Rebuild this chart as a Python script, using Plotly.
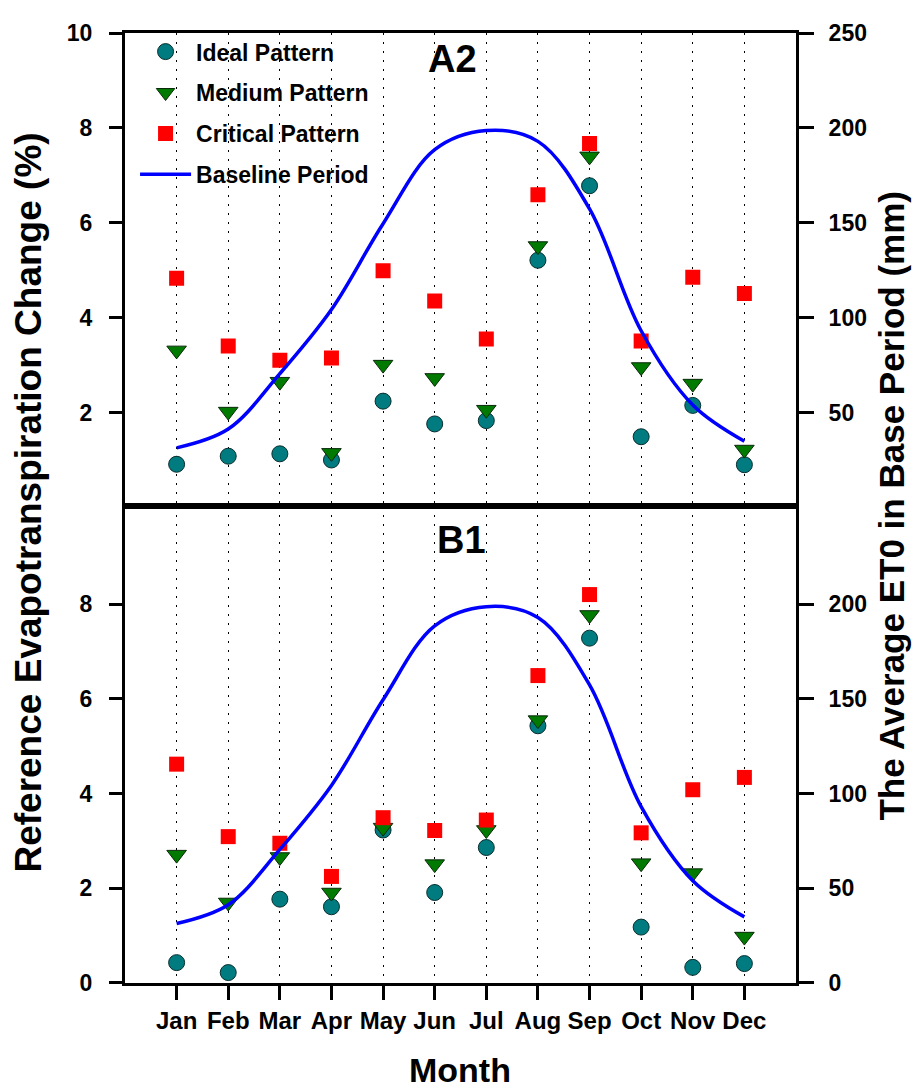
import plotly.graph_objects as go

months = ["Jan", "Feb", "Mar", "Apr", "May", "Jun", "Jul", "Aug", "Sep", "Oct", "Nov", "Dec"]
month_pos = list(range(1, 13))

# Baseline period average ET0 (mm), right axis
baseline_mm = [31.4, 41.3, 70.5, 104.3, 149.5, 188.5, 198.6, 192.9, 157.3, 93.1, 54.0, 34.9]

# A2 scenario (% change)
a2_ideal = [0.91, 1.08, 1.13, 1.00, 2.24, 1.76, 1.83, 5.21, 6.78, 1.49, 2.15, 0.90]
a2_medium = [3.31, 2.02, 2.65, 1.15, 3.01, 2.73, 2.06, 5.51, 7.40, 2.96, 2.61, 1.22]
a2_critical = [4.83, 3.40, 3.10, 3.15, 4.99, 4.35, 3.55, 6.59, 7.67, 3.51, 4.85, 4.51]

# B1 scenario (% change)
b1_ideal = [0.43, 0.22, 1.77, 1.61, 3.23, 1.91, 2.86, 5.43, 7.28, 1.18, 0.33, 0.41]
b1_medium = [2.71, 1.70, 2.66, 1.91, 3.28, 2.51, 3.23, 5.55, 7.77, 2.53, 2.32, 0.98]
b1_critical = [4.62, 3.09, 2.95, 2.25, 3.49, 3.22, 3.44, 6.49, 8.20, 3.17, 4.08, 4.34]

left_ticks_top = [2, 4, 6, 8, 10]
right_ticks_top = [50, 100, 150, 200, 250]
left_ticks_bot = [0, 2, 4, 6, 8]
right_ticks_bot = [0, 50, 100, 150, 200]

FONT = "Liberation Sans, Arial, sans-serif"
TEAL = "#007B7F"
GREEN = "#007A00"
RED = "#FF0000"
BLUE = "#0000FF"

fig = go.Figure()

def add_panel(ideal, medium, critical, xa, ya, ya2, show):
    fig.add_trace(go.Scatter(
        x=month_pos, y=ideal, mode="markers", name="Ideal Pattern",
        legendgroup="g1", showlegend=show, xaxis=xa, yaxis=ya,
        marker=dict(symbol="circle", size=16, color=TEAL,
                    line=dict(color="#0A2E2E", width=1))))
    fig.add_trace(go.Scatter(
        x=month_pos, y=medium, mode="markers", name="Medium Pattern",
        legendgroup="g2", showlegend=show, xaxis=xa, yaxis=ya,
        marker=dict(symbol="triangle-down", size=17, color=GREEN,
                    line=dict(color="#0A2A0A", width=1))))
    fig.add_trace(go.Scatter(
        x=month_pos, y=critical, mode="markers", name="Critical Pattern",
        legendgroup="g3", showlegend=show, xaxis=xa, yaxis=ya,
        marker=dict(symbol="square", size=15, color=RED,
                    line=dict(width=0))))
    fig.add_trace(go.Scatter(
        x=month_pos, y=baseline_mm, mode="lines", name="Baseline Period",
        legendgroup="g4", showlegend=show, xaxis=xa, yaxis=ya2,
        line=dict(color=BLUE, width=3.5, shape="spline", smoothing=1.0)))

# top panel (A2): x2 / y3 / y4 ; bottom (B1): x / y / y2
add_panel(a2_ideal, a2_medium, a2_critical, "x2", "y3", "y4", True)
add_panel(b1_ideal, b1_medium, b1_critical, "x", "y", "y2", False)

split = (983 - 500) / 961

grid_common = dict(showgrid=True, gridcolor="black", gridwidth=1,
                   griddash="2px,7px", zeroline=False)
tickfont = dict(family=FONT, size=23, color="black")
xtickfont = dict(family=FONT, size=24, color="black")

# The page body has an 8px margin, so the figure is offset by 8px on screen.
fig.update_layout(
    width=912, height=1083, autosize=False,
    margin=dict(l=117, r=124, t=14, b=108),
    plot_bgcolor="white", paper_bgcolor="white",
    font=dict(family=FONT, color="black"),
    xaxis=dict(domain=[0, 1], anchor="y", range=[0, 13],
               tickmode="array", tickvals=month_pos, ticktext=["<b>%s</b>" % m for m in months],
               ticks="outside", ticklen=14, tickwidth=2.5, tickcolor="black",
               tickfont=xtickfont, showline=True, linecolor="black", linewidth=3,
               mirror=True, **grid_common),
    xaxis2=dict(domain=[0, 1], anchor="y3", range=[0, 13],
                tickmode="array", tickvals=month_pos, showticklabels=False,
                ticks="", showline=True, linecolor="black", linewidth=3,
                mirror=True, **grid_common),
    yaxis=dict(domain=[0, split], anchor="x", range=[0, 10.08],
               tickmode="array", tickvals=left_ticks_bot,
               ticktext=["<b>%d</b>" % v for v in left_ticks_bot],
               ticks="outside", ticklen=13, tickwidth=2.5, tickcolor="black",
               tickfont=tickfont, ticklabelstandoff=12,
               showline=True, linecolor="black", linewidth=3,
               showgrid=False, zeroline=False),
    yaxis2=dict(overlaying="y", side="right", anchor="x", range=[0, 252],
                tickmode="array", tickvals=right_ticks_bot,
                ticktext=["<b>%d</b>" % v for v in right_ticks_bot],
                ticks="outside", ticklen=15, tickwidth=2.5, tickcolor="black",
                tickfont=tickfont, ticklabelstandoff=10,
                showline=True, linecolor="black", linewidth=3,
                showgrid=False, zeroline=False),
    yaxis3=dict(domain=[split, 1], anchor="x2", range=[0.04, 10],
                tickmode="array", tickvals=left_ticks_top,
                ticktext=["<b>%d</b>" % v for v in left_ticks_top],
                ticks="outside", ticklen=13, tickwidth=2.5, tickcolor="black",
                tickfont=tickfont, ticklabelstandoff=12,
                showline=True, linecolor="black", linewidth=3,
                showgrid=False, zeroline=False),
    yaxis4=dict(overlaying="y3", side="right", anchor="x2", range=[1, 250],
                tickmode="array", tickvals=right_ticks_top,
                ticktext=["<b>%d</b>" % v for v in right_ticks_top],
                ticks="outside", ticklen=15, tickwidth=2.5, tickcolor="black",
                tickfont=tickfont, ticklabelstandoff=10,
                showline=True, linecolor="black", linewidth=3,
                showgrid=False, zeroline=False),
    legend=dict(x=0.015, y=1.003, xanchor="left", yanchor="top",
                bgcolor="rgba(0,0,0,0)", borderwidth=0,
                font=dict(family=FONT, size=23, color="black", weight="bold"),
                traceorder="grouped", tracegroupgap=8, itemwidth=51),
    showlegend=True,
)

ann_font = dict(family=FONT, color="black")
fig.add_annotation(text="<b>A2</b>", xref="paper", yref="paper",
                   x=(452 - 125) / 671, y=(983 - 48) / 961, showarrow=False,
                   xanchor="center", yanchor="middle", font=dict(size=38, **ann_font))
fig.add_annotation(text="<b>B1</b>", xref="paper", yref="paper",
                   x=(461 - 125) / 671, y=(983 - 535) / 961, showarrow=False,
                   xanchor="center", yanchor="middle", font=dict(size=38, **ann_font))
fig.add_annotation(text="<b>Month</b>", xref="paper", yref="paper",
                   x=(460 - 125) / 671, y=(983 - 1071) / 961, showarrow=False,
                   xanchor="center", yanchor="middle", font=dict(size=34, **ann_font))
fig.add_annotation(text="<b>Reference Evapotranspiration Change (%)</b>", xref="paper", yref="paper",
                   x=(29 - 125) / 671, y=(983 - 497) / 961, showarrow=False, textangle=-90,
                   xanchor="center", yanchor="middle", font=dict(size=37, **ann_font))
fig.add_annotation(text="<b>The Average ET0 in Base Period (mm)</b>", xref="paper", yref="paper",
                   x=(892 - 125) / 671, y=(983 - 500) / 961, showarrow=False, textangle=-90,
                   xanchor="center", yanchor="middle", font=dict(size=35, **ann_font))

fig.write_html("out.html")
